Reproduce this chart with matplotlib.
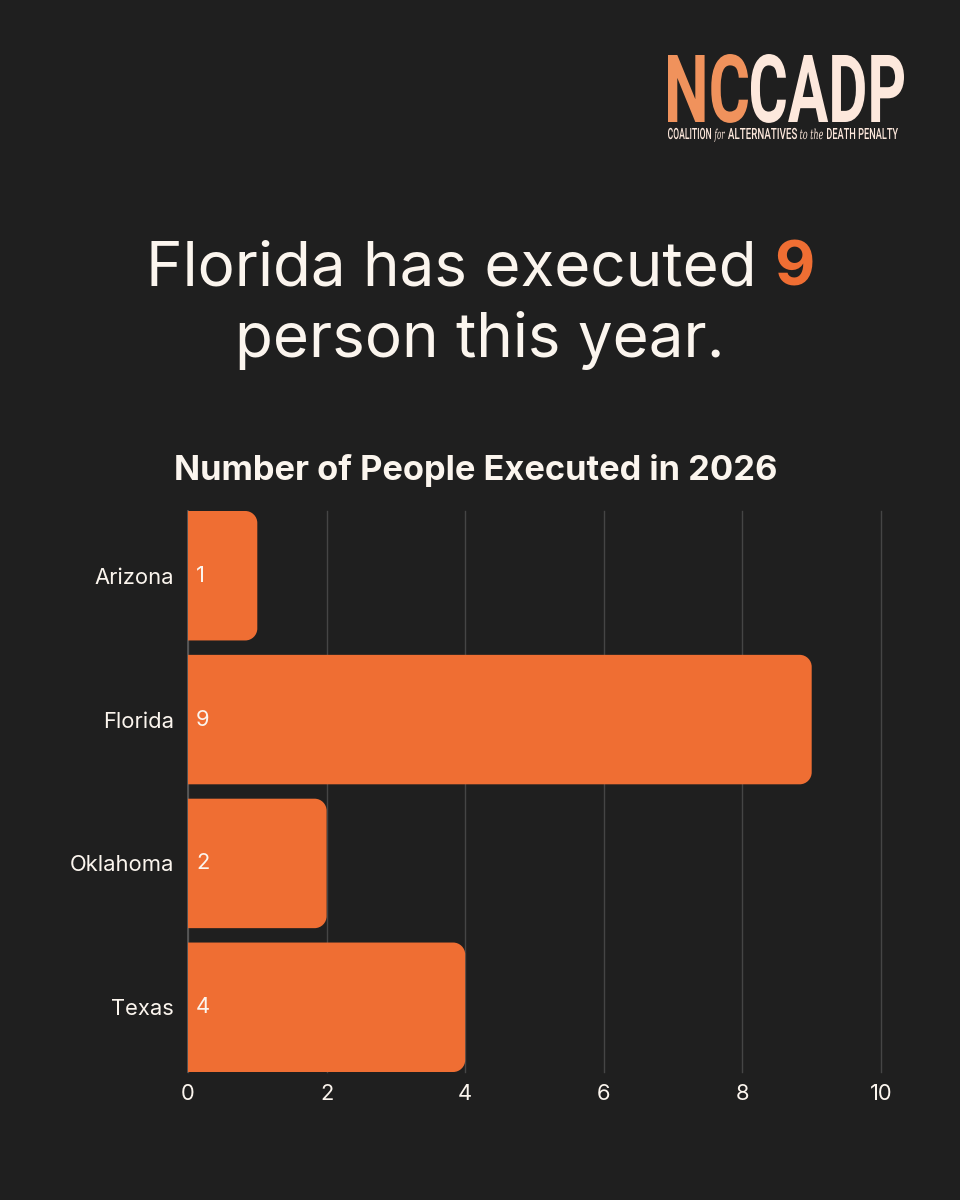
import numpy as np
import matplotlib
matplotlib.use("Agg")
import matplotlib.pyplot as plt
from matplotlib.textpath import TextPath
from matplotlib.font_manager import FontProperties
from matplotlib.patches import PathPatch
from matplotlib.path import Path
from matplotlib.transforms import Affine2D

# data
states = ["Arizona", "Florida", "Oklahoma", "Texas"]
executions = [1, 9, 2, 4]
x_ticks = [0, 2, 4, 6, 8, 10]

BG = "#1f1f1f"
ORANGE = "#ef6e33"
WHITE = "#fbf5ee"
LOGO_ORANGE = "#f0925c"
LOGO_CREAM = "#fde8dc"

plt.rcParams["font.family"] = ["Inter", "DejaVu Sans"]

fig = plt.figure(figsize=(9.6, 12), dpi=100, facecolor=BG)
W, H = 960, 1200
px = Affine2D().scale(1 / W, 1 / H) + fig.transFigure


def path_text(s, x0, base, width, cap, color, prop):
    # draw text as a path squeezed into a box (pixels from top-left)
    tp = TextPath((0, 0), s, size=100, prop=prop)
    capref = TextPath((0, 0), "H", size=100, prop=prop).get_extents().height
    ext = tp.get_extents()
    t = Affine2D().translate(-ext.x0, 0).scale(width / ext.width, cap / capref)
    t = t.translate(x0, H - base)
    fig.add_artist(PathPatch(t.transform_path(tp), fc=color, ec="none", transform=px))


# logo
bold = FontProperties(family="Roboto", weight="bold")
path_text("NC", 668, 122, 80, 67, LOGO_ORANGE, bold)
path_text("CADP", 751, 122, 153, 67, LOGO_CREAM, bold)
tag = FontProperties(family="Roboto", weight="medium")
ital = FontProperties(family="DejaVu Serif", style="italic")
path_text("COALITION", 668, 139, 43, 11, LOGO_CREAM, tag)
path_text("for", 714, 139, 11, 10, LOGO_CREAM, ital)
path_text("ALTERNATIVES", 728, 139, 69, 11, LOGO_CREAM, tag)
path_text("to the", 800, 139, 23, 10, LOGO_CREAM, ital)
path_text("DEATH PENALTY", 827, 139, 71, 11, LOGO_CREAM, tag)

# headline
renderer = fig.canvas.get_renderer()
t1 = fig.text(0, 1 - 286 / H, "Florida has executed ", fontsize=44.6, color=WHITE,
              ha="left", va="baseline")
t2 = fig.text(0, 1 - 286 / H, str(executions[states.index("Florida")]), fontsize=44.6,
              color=ORANGE, fontweight="bold", ha="left", va="baseline")
w1 = t1.get_window_extent(renderer).width
w2 = t2.get_window_extent(renderer).width
start = 480 - (w1 + w2) / 2
t1.set_x(start / W)
t2.set_x((start + w1) / W)
fig.text(0.5, 1 - 357 / H, "person this year.", fontsize=44.6, color=WHITE,
         ha="center", va="baseline")

fig.text(476 / W, 1 - 480 / H, "Number of People Executed in 2026", fontsize=24.8,
         color=WHITE, fontweight="bold", ha="center", va="baseline")

# chart
ax = fig.add_axes([188 / W, 1 - 1072 / H, 693 / W, 561 / H])
ax.set_facecolor(BG)
y = np.arange(len(states))
bars = ax.barh(y, executions, height=0.9, color=ORANGE)
ax.set_xlim(0, 10)
ax.set_ylim(len(states) - 0.55, -0.45)

# swap plain bars for bars with rounded right corners
rx = 12 / (693 / 10)
ry = 12 / (561 / 3.9)
for b in bars:
    x0, y0 = b.get_x(), b.get_y()
    x1, y1 = x0 + b.get_width(), y0 + b.get_height()
    k = 0.45
    verts = [(x0, y0), (x1 - rx, y0),
             (x1 - rx * k, y0), (x1, y0 + ry * k), (x1, y0 + ry),
             (x1, y1 - ry),
             (x1, y1 - ry * k), (x1 - rx * k, y1), (x1 - rx, y1),
             (x0, y1), (x0, y0)]
    codes = [Path.MOVETO, Path.LINETO,
             Path.CURVE4, Path.CURVE4, Path.CURVE4,
             Path.LINETO,
             Path.CURVE4, Path.CURVE4, Path.CURVE4,
             Path.LINETO, Path.CLOSEPOLY]
    ax.add_patch(PathPatch(Path(verts, codes), fc=ORANGE, ec="none", zorder=3))
    b.set_visible(False)
    ax.text(x0 + 8 / 69.3, (y0 + y1) / 2, str(int(b.get_width())), color=WHITE,
            fontsize=15.8, va="center", ha="left", zorder=4)

ax.set_xticks(x_ticks)
ax.set_xticklabels([str(v) for v in x_ticks])
ax.set_yticks(y)
ax.set_yticklabels(states)
ax.tick_params(axis="both", length=0, colors=WHITE, labelsize=15.8)
ax.tick_params(axis="y", pad=10)
ax.tick_params(axis="x", pad=9)
ax.grid(axis="x", color="#454545", linewidth=1, zorder=0)
for gl in ax.get_xgridlines():
    gl.set_clip_on(False)
ax.set_axisbelow(True)
for side in ["top", "right", "bottom"]:
    ax.spines[side].set_visible(False)
ax.spines["left"].set_color("#5a5a5a")
ax.spines["left"].set_linewidth(1.2)

fig.savefig("out.png", dpi=100, facecolor=BG)
